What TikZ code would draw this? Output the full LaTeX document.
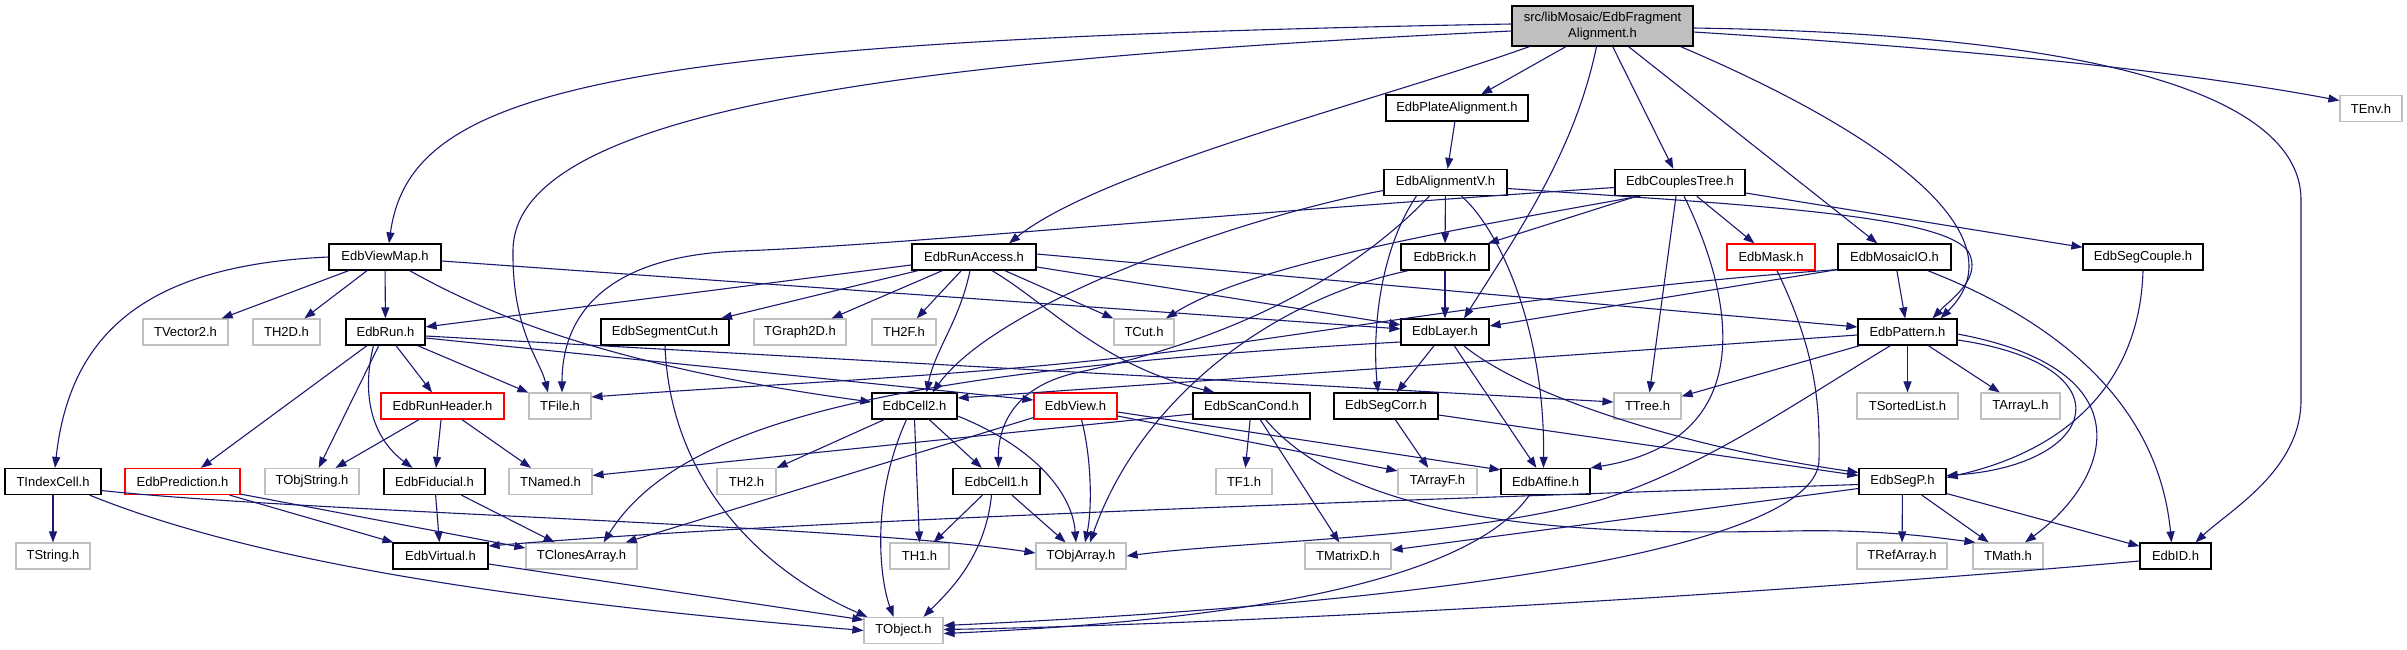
\documentclass[tikz,border=0pt]{standalone}
\usepackage{fontspec}
\setmainfont{Liberation Sans}
\usetikzlibrary{arrows.meta,calc}
\definecolor{edgec}{HTML}{191970}
\definecolor{grayb}{HTML}{BFBFBF}
\newcommand{\dxfont}{\fontsize{13}{15.5}\selectfont}
\begin{document}
\begin{tikzpicture}[x=1pt,y=-1pt,
  hdr/.style={draw=black, fill=white, line width=1.2pt, minimum height=26pt, inner sep=0pt, font=\dxfont},
  sys/.style={hdr, draw=grayb},
  hdrr/.style={hdr, draw=red},
  conn/.style={draw=edgec, line width=1.1pt, -{Triangle[length=11pt,width=8pt]}}]
\useasboundingbox (0,0) rectangle (2407,649);
% nodes
\node[hdr, fill=grayb, minimum width=181pt, minimum height=40pt, align=center] (root) at (1602.5,26) {src/libMosaic/EdbFragment\\Alignment.h};
\node[hdr, minimum width=142pt] (plate) at (1457,108) {EdbPlateAlignment.h};
\node[hdr, minimum width=123pt] (alignv) at (1445.5,182.5) {EdbAlignmentV.h};
\node[hdr, minimum width=130pt] (couples) at (1680,182.5) {EdbCouplesTree.h};
\node[sys, minimum width=62pt] (tenv) at (2371,108.5) {TEnv.h};
\node[hdr, minimum width=112pt] (viewmap) at (385,257) {EdbViewMap.h};
\node[hdr, minimum width=124pt] (runaccess) at (974,257) {EdbRunAccess.h};
\node[hdr, minimum width=88pt] (brick) at (1445,257) {EdbBrick.h};
\node[hdrr, minimum width=88pt] (mask) at (1771,257) {EdbMask.h};
\node[hdr, minimum width=113pt] (mosaicio) at (1894.5,257) {EdbMosaicIO.h};
\node[hdr, minimum width=120pt] (segcouple) at (2143,257) {EdbSegCouple.h};
\node[sys, minimum width=85pt] (tvector2) at (185.5,332) {TVector2.h};
\node[sys, minimum width=67pt] (th2d) at (286.5,332) {TH2D.h};
\node[hdr, minimum width=79pt] (edbrun) at (385.5,332) {EdbRun.h};
\node[hdr, minimum width=128pt] (segmentcut) at (665,332) {EdbSegmentCut.h};
\node[sys, minimum width=92pt] (tgraph2d) at (800,332) {TGraph2D.h};
\node[sys, minimum width=64pt] (th2f) at (904,332) {TH2F.h};
\node[sys, minimum width=60pt] (tcut) at (1144,332) {TCut.h};
\node[hdr, minimum width=88pt] (layer) at (1445,332) {EdbLayer.h};
\node[hdr, minimum width=99pt] (pattern) at (1907.5,332) {EdbPattern.h};
\node[hdrr, minimum width=123pt] (runheader) at (442.5,406) {EdbRunHeader.h};
\node[sys, minimum width=62pt] (tfile) at (560,406) {TFile.h};
\node[hdr, minimum width=85pt] (cell2) at (914.5,406) {EdbCell2.h};
\node[hdrr, minimum width=83pt] (view) at (1075.5,406) {EdbView.h};
\node[hdr, minimum width=117pt] (scancond) at (1251.5,406) {EdbScanCond.h};
\node[hdr, minimum width=104pt] (segcorr) at (1386,406) {EdbSegCorr.h};
\node[sys, minimum width=67pt] (ttree) at (1647.5,406) {TTree.h};
\node[sys, minimum width=101pt] (tsortedlist) at (1907.5,406) {TSortedList.h};
\node[sys, minimum width=79pt] (tarrayl) at (2020.5,406) {TArrayL.h};
\node[hdr, minimum width=96pt] (tindexcell) at (53,481.5) {TIndexCell.h};
\node[hdrr, minimum width=115pt] (prediction) at (182.5,481.5) {EdbPrediction.h};
\node[sys, minimum width=94pt] (tobjstring) at (312,481.5) {TObjString.h};
\node[hdr, minimum width=101pt] (fiducial) at (434.5,481.5) {EdbFiducial.h};
\node[sys, minimum width=83pt] (tnamed) at (550.5,481.5) {TNamed.h};
\node[sys, minimum width=59pt] (th2) at (746.5,481.5) {TH2.h};
\node[hdr, minimum width=87pt] (cell1) at (996.5,481.5) {EdbCell1.h};
\node[sys, minimum width=56pt] (tf1) at (1244,481.5) {TF1.h};
\node[sys, minimum width=79pt] (tarrayf) at (1437.5,481.5) {TArrayF.h};
\node[hdr, minimum width=89pt] (affine) at (1545.5,481.5) {EdbAffine.h};
\node[hdr, minimum width=87pt] (segp) at (1902.5,481.5) {EdbSegP.h};
\node[sys, minimum width=74pt] (tstring) at (53,556) {TString.h};
\node[hdr, minimum width=95pt] (virtual) at (440.5,556) {EdbVirtual.h};
\node[sys, minimum width=111pt] (tclones) at (581.5,556) {TClonesArray.h};
\node[sys, minimum width=59pt] (th1) at (919.5,556) {TH1.h};
\node[sys, minimum width=90pt] (tobjarray) at (1081,556) {TObjArray.h};
\node[sys, minimum width=86pt] (tmatrixd) at (1348,556) {TMatrixD.h};
\node[sys, minimum width=90pt] (trefarray) at (1902,556) {TRefArray.h};
\node[sys, minimum width=70pt] (tmath) at (2008,556) {TMath.h};
\node[hdr, minimum width=71pt] (edbid) at (2175.5,556) {EdbID.h};
\node[sys, minimum width=79pt] (tobject) at (903.5,630.5) {TObject.h};
% root
\draw[conn] ($(root.west)+(0,-2)$) .. controls (600,40) and (410,90) .. ($(viewmap.north)+(4,0)$);
\draw[conn] ($(root.west)+(0,5)$) .. controls (900,60) and (515,110) .. (513,250) .. controls (512,330) and (540,360) .. ($(tfile.north)+(-12,0)$);
\draw[conn] ($(root.south west)+(18,0)$) .. controls (1380,100) and (1100,170) .. ($(runaccess.north)+(35,0)$);
\draw[conn] (root) -- (plate);
\draw[conn] ($(root.south)+(-6,0)$) .. controls (1575,150) and (1520,230) .. ($(layer.north)+(19,0)$);
\draw[conn] (root) -- (couples);
\draw[conn] (root) -- (mosaicio);
\draw[conn] ($(root.south east)+(-13,0)$) .. controls (1900,140) and (2020,240) .. ($(pattern.north)+(33,0)$);
\draw[conn] ($(root.east)+(0,6)$) .. controls (1900,45) and (2150,65) .. ($(tenv.west)+(0,-8)$);
\draw[conn] ($(root.east)+(0,2)$) .. controls (2150,35) and (2301,110) .. (2301,200) -- (2301,400) .. controls (2301,470) and (2230,510) .. ($(edbid.north)+(20,0)$);
% plate
\draw[conn] (plate) -- (alignv);
% alignv
\draw[conn] ($(alignv.west)+(0,8)$) .. controls (1250,215) and (1000,300) .. ($(cell2.north)+(18,0)$);
\draw[conn] ($(alignv.south west)+(46,0)$) .. controls (1330,300) and (1190,348) .. (1080,372) .. controls (1015,385) and (998,425) .. ($(cell1.north)+(2,0)$);
\draw[conn] (alignv) -- (brick);
\draw[conn] ($(alignv.south west)+(33,0)$) .. controls (1380,250) and (1372,330) .. ($(segcorr.north)+(-8,0)$);
\draw[conn] ($(alignv.south)+(16,0)$) .. controls (1500,230) and (1545,330) .. ($(affine.north)+(-2,0)$);
\draw[conn] ($(alignv.east)+(0,6)$) .. controls (1750,205) and (1955,215) .. (1970,255) .. controls (1980,280) and (1950,300) .. ($(pattern.north)+(25,0)$);
% brick
\draw[conn] (brick) -- (layer);
\draw[conn] ($(brick.south west)+(8,0)$) .. controls (1270,300) and (1140,400) .. ($(tobjarray.north)+(9,0)$);
% couples
\draw[conn] ($(couples.west)+(0,5)$) .. controls (1200,215) and (900,245) .. (740,251) .. controls (600,256) and (562,320) .. ($(tfile.north)+(2,0)$);
\draw[conn] ($(couples.south west)+(26,0)$) .. controls (1450,230) and (1250,265) .. ($(tcut.north)+(22,0)$);
\draw[conn] (couples) -- (brick);
\draw[conn] (couples) -- (mask);
\draw[conn] ($(couples.south)+(-4,0)$) -- ($(ttree.north)+(2,0)$);
\draw[conn] ($(couples.south)+(4,0)$) .. controls (1735,300) and (1760,440) .. (affine.north east);
\draw[conn] (couples) -- (segcouple);
% viewmap
\draw[conn] (viewmap.west) .. controls (150,265) and (70,330) .. ($(tindexcell.north)+(2,0)$);
\draw[conn] (viewmap) -- (tvector2);
\draw[conn] (viewmap) -- (th2d);
\draw[conn] (viewmap) -- (edbrun);
\draw[conn] ($(viewmap.south east)+(-32,0)$) .. controls (480,310) and (600,365) .. ($(cell2.west)+(0,-4)$);
\draw[conn] (viewmap) -- (layer);
% runaccess
\draw[conn] (runaccess) -- (edbrun);
\draw[conn] (runaccess) -- (segmentcut);
\draw[conn] (runaccess) -- (tgraph2d);
\draw[conn] (runaccess) -- (th2f);
\draw[conn] ($(runaccess.south)+(-4,0)$) .. controls (960,320) and (935,350) .. ($(cell2.north)+(12,0)$);
\draw[conn] ($(runaccess.south)+(18,0)$) .. controls (1050,305) and (1100,365) .. ($(scancond.north)+(-37,0)$);
\draw[conn] (runaccess) -- (tcut);
\draw[conn] (runaccess) -- (layer);
\draw[conn] ($(runaccess.east)+(0,-3)$) -- ($(pattern.west)+(0,-5)$);
% segmentcut
\draw[conn] (segmentcut.south) .. controls (670,480) and (760,570) .. ($(tobject.north west)+(4,0)$);
% edbrun
\draw[conn] (edbrun) -- (prediction);
\draw[conn] (edbrun) -- (tobjstring);
\draw[conn] ($(edbrun.south)+(-12,0)$) .. controls (360,400) and (375,440) .. ($(fiducial.north)+(-22,0)$);
\draw[conn] (edbrun) -- (runheader);
\draw[conn] (edbrun) -- (tfile);
\draw[conn] ($(edbrun.east)+(0,6)$) -- ($(view.west)+(0,-6)$);
\draw[conn] ($(edbrun.east)+(0,4)$) -- ($(ttree.west)+(0,-4)$);
% runheader
\draw[conn] (runheader) -- (tobjstring);
\draw[conn] (runheader) -- (fiducial);
\draw[conn] (runheader) -- (tnamed);
% fiducial, prediction
\draw[conn] (fiducial) -- (virtual);
\draw[conn] (fiducial) -- (tclones);
\draw[conn] (prediction) -- (virtual);
\draw[conn] ($(prediction.south east)+(0,-1)$) -- ($(tclones.west)+(0,-8)$);
% tindexcell
\draw[conn] (tindexcell) -- (tstring);
\draw[conn] ($(tindexcell.east)+(0,9)$) .. controls (300,512) and (850,525) .. ($(tobjarray.west)+(0,-3)$);
\draw[conn] ($(tindexcell.south east)+(-12,0)$) .. controls (250,560) and (500,600) .. (tobject.west);
% virtual
\draw[conn] ($(virtual.east)+(0,8)$) -- ($(tobject.north west)+(0,3)$);
% cell2
\draw[conn] (cell2) -- (th2);
\draw[conn] ($(cell2.south)+(-8,0)$) .. controls (870,500) and (880,580) .. ($(tobject.north)+(-10,0)$);
\draw[conn] (cell2.south) -- (th1.north);
\draw[conn] (cell2) -- (cell1);
\draw[conn] ($(cell2.east)+(0,10)$) .. controls (1030,445) and (1072,490) .. ($(tobjarray.north)+(-5,0)$);
% cell1
\draw[conn] (cell1) -- (th1);
\draw[conn] (cell1) -- (tobjarray);
\draw[conn] ($(cell1.south)+(-5,0)$) .. controls (985,560) and (945,595) .. ($(tobject.north)+(20,0)$);
% view
\draw[conn] ($(view.south west)+(0,-2)$) -- ($(tclones.north east)+(-12,0)$);
\draw[conn] ($(view.south)+(6,0)$) .. controls (1092,460) and (1092,510) .. ($(tobjarray.north)+(4,0)$);
\draw[conn] ($(view.east)+(0,10)$) -- ($(tarrayf.north west)+(0,3)$);
\draw[conn] ($(view.east)+(0,6)$) -- ($(affine.north west)+(0,2)$);
% scancond
\draw[conn] ($(scancond.west)+(0,8)$) -- ($(tnamed.east)+(0,-6)$);
\draw[conn] (scancond) -- (tf1);
\draw[conn] (scancond) -- (tmatrixd);
\draw[conn] ($(scancond.south)+(14,0)$) .. controls (1360,530) and (1600,535) .. (1790,531) .. controls (1880,529) and (1940,538) .. ($(tmath.north west)+(3,0)$);
% segcorr
\draw[conn] (segcorr) -- (tarrayf);
\draw[conn] ($(segcorr.east)+(0,9)$) -- ($(segp.west)+(0,-6)$);
% layer
\draw[conn] (layer) -- (segcorr);
\draw[conn] (layer) -- (affine);
\draw[conn] ($(layer.south east)+(-26,0)$) .. controls (1530,400) and (1700,450) .. ($(segp.west)+(0,-9)$);
\draw[conn] ($(layer.west)+(0,10)$) .. controls (900,370) and (680,420) .. ($(tclones.north east)+(-34,0)$);
% pattern
\draw[conn] ($(pattern.west)+(0,3)$) -- ($(cell2.east)+(0,-8)$);
\draw[conn] (pattern) -- (ttree);
\draw[conn] ($(pattern.south)+(-17,0)$) .. controls (1800,400) and (1700,470) .. (1600,500) .. controls (1450,540) and (1250,540) .. (tobjarray.east);
\draw[conn] (pattern) -- (tsortedlist);
\draw[conn] (pattern) -- (tarrayl);
\draw[conn] ($(pattern.east)+(0,8)$) .. controls (2130,365) and (2100,465) .. ($(segp.east)+(0,-6)$);
\draw[conn] ($(pattern.east)+(0,2)$) .. controls (2150,370) and (2110,480) .. ($(tmath.north)+(17,0)$);
% segp
\draw[conn] ($(segp.west)+(0,3)$) .. controls (1400,500) and (800,520) .. ($(virtual.east)+(0,-10)$);
\draw[conn] ($(segp.west)+(0,7)$) -- ($(tmatrixd.east)+(0,-6)$);
\draw[conn] (segp) -- (trefarray);
\draw[conn] (segp) -- (tmath);
\draw[conn] (segp) -- (edbid);
% segcouple
\draw[conn] (segcouple.south) .. controls (2140,380) and (2070,450) .. ($(segp.east)+(0,-4)$);
% mosaicio
\draw[conn] ($(mosaicio.south west)+(0,-1)$) .. controls (1550,290) and (1330,333) .. (1144,355) .. controls (958,377) and (750,385) .. ($(tfile.east)+(0,-9)$);
\draw[conn] ($(mosaicio.south west)+(0,-1)$) -- ($(layer.east)+(0,-6)$);
\draw[conn] (mosaicio) -- (pattern);
\draw[conn] ($(mosaicio.south east)+(-24,0)$) .. controls (2080,330) and (2160,420) .. ($(edbid.north)+(-4,0)$);
% mask, affine, edbid
\draw[conn] ($(mask.south)+(6,0)$) .. controls (1815,350) and (1820,400) .. (1819,460) .. controls (1818,540) and (1500,600) .. ($(tobject.east)+(0,-5)$);
\draw[conn] ($(affine.south west)+(29,0)$) .. controls (1470,580) and (1250,620) .. ($(tobject.east)+(0,3)$);
\draw[conn] ($(edbid.west)+(0,5)$) .. controls (1700,600) and (1200,625) .. ($(tobject.east)+(0,-1)$);
\end{tikzpicture}
\end{document}
